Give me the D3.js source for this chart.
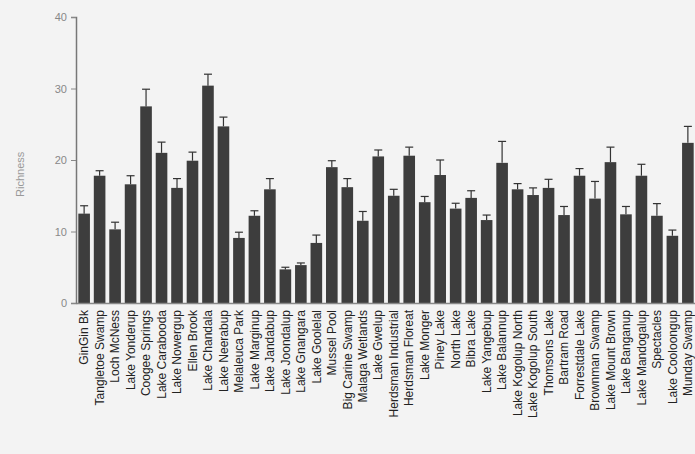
<!DOCTYPE html>
<html>
<head>
<meta charset="utf-8">
<script src="https://cdn.jsdelivr.net/npm/d3@7"></script>
<style>
  html, body { margin: 0; padding: 0; background: #f3f3f3; }
  svg { display: block; }
</style>
</head>
<body>
<div id="chart"></div>
<script>
var sites = ["GinGin Bk", "Tangletoe Swamp", "Loch McNess", "Lake Yonderup", "Coogee Springs",
  "Lake Carabooda", "Lake Nowergup", "Ellen Brook", "Lake Chandala", "Lake Neerabup",
  "Melaleuca Park", "Lake Marginup", "Lake Jandabup", "Lake Joondalup", "Lake Gnangara",
  "Lake Goolelal", "Mussel Pool", "Big Carine Swamp", "Malaga Wetlands", "Lake Gwelup",
  "Herdsman Industrial", "Herdsman Floreat", "Lake Monger", "Piney Lake", "North Lake",
  "Bibra Lake", "Lake Yangebup", "Lake Balannup", "Lake Kogolup North", "Lake Kogolup South",
  "Thomsons Lake", "Bartram Road", "Forrestdale Lake", "Brownman Swamp", "Lake Mount Brown",
  "Lake Banganup", "Lake Mandogalup", "Spectacles", "Lake Cooloongup", "Munday Swamp"];

var richness = [12.5, 17.8, 10.3, 16.6, 27.5, 21.0, 16.1, 19.9, 30.4, 24.7,
  9.1, 12.2, 15.9, 4.7, 5.3, 8.4, 19.0, 16.2, 11.5, 20.5,
  15.0, 20.6, 14.1, 17.9, 13.2, 14.7, 11.6, 19.6, 15.9, 15.1,
  16.1, 12.3, 17.8, 14.6, 19.7, 12.4, 17.8, 12.2, 9.4, 22.4];

var stdErr = [1.1, 0.7, 1.0, 1.2, 2.4, 1.5, 1.3, 1.2, 1.6, 1.3,
  0.8, 0.7, 1.5, 0.3, 0.3, 1.1, 0.9, 1.2, 1.3, 0.9,
  0.9, 1.2, 0.8, 2.1, 0.75, 1.0, 0.7, 3.0, 0.8, 1.0,
  1.2, 1.2, 1.0, 2.4, 2.1, 1.1, 1.6, 1.7, 0.8, 2.3];

var yTicks = [0, 10, 20, 30, 40];

var width = 695, height = 454;
var margin = {top: 17, right: 0, bottom: 151, left: 76};

var svg = d3.select("#chart").append("svg")
  .attr("width", width)
  .attr("height", height);

svg.append("rect").attr("width", width).attr("height", height).attr("fill", "#f3f3f3");

var x = d3.scaleBand()
  .domain(sites)
  .range([margin.left, margin.left + 40 * 15.5])
  .paddingInner(0.25)
  .paddingOuter(0.15);

var y = d3.scaleLinear()
  .domain([0, 40])
  .range([height - margin.bottom, margin.top]);

var data = sites.map(function(s, i) { return {site: s, v: richness[i], e: stdErr[i]}; });

// bars
svg.append("g").selectAll("rect")
  .data(data).enter().append("rect")
  .attr("x", function(d) { return x(d.site); })
  .attr("y", function(d) { return y(d.v); })
  .attr("width", x.bandwidth())
  .attr("height", function(d) { return y(0) - y(d.v); })
  .attr("fill", "#3d3d3d");

// error bars (upper only)
var eb = svg.append("g").attr("stroke", "#333").attr("stroke-width", 1.2);
data.forEach(function(d) {
  var cx = x(d.site) + x.bandwidth() / 2;
  eb.append("line").attr("x1", cx).attr("x2", cx)
    .attr("y1", y(d.v)).attr("y2", y(d.v + d.e));
  eb.append("line").attr("x1", cx - 4).attr("x2", cx + 4)
    .attr("y1", y(d.v + d.e)).attr("y2", y(d.v + d.e));
});

// y axis
var yAxis = svg.append("g")
  .attr("transform", "translate(" + margin.left + ",0)")
  .call(d3.axisLeft(y).tickValues(yTicks).tickSize(5).tickPadding(4));
yAxis.select(".domain").attr("stroke", "#777").attr("stroke-width", 1.5);
yAxis.selectAll(".tick line").attr("stroke", "#888");
yAxis.selectAll("text").attr("fill", "#888")
  .style("font-family", "Liberation Sans, Arial, sans-serif").style("font-size", "11px");

// x axis
var xAxis = svg.append("g")
  .attr("transform", "translate(0," + y(0) + ")")
  .call(d3.axisBottom(x).tickSize(0).tickPadding(0));
xAxis.select(".domain").attr("stroke", "#888").attr("stroke-width", 1.5);
xAxis.selectAll("text")
  .attr("transform", "rotate(-90)")
  .attr("text-anchor", "end")
  .attr("x", -7)
  .attr("y", 0)
  .attr("dy", "0.35em")
  .attr("fill", "#222")
  .style("font-family", "Liberation Sans, Arial, sans-serif")
  .style("font-size", "12px");

svg.append("text")
  .attr("transform", "translate(24," + y(18) + ") rotate(-90)")
  .attr("text-anchor", "middle")
  .attr("fill", "#999")
  .style("font-family", "Liberation Sans, Arial, sans-serif")
  .style("font-size", "11px")
  .text("Richness");
</script>
</body>
</html>
